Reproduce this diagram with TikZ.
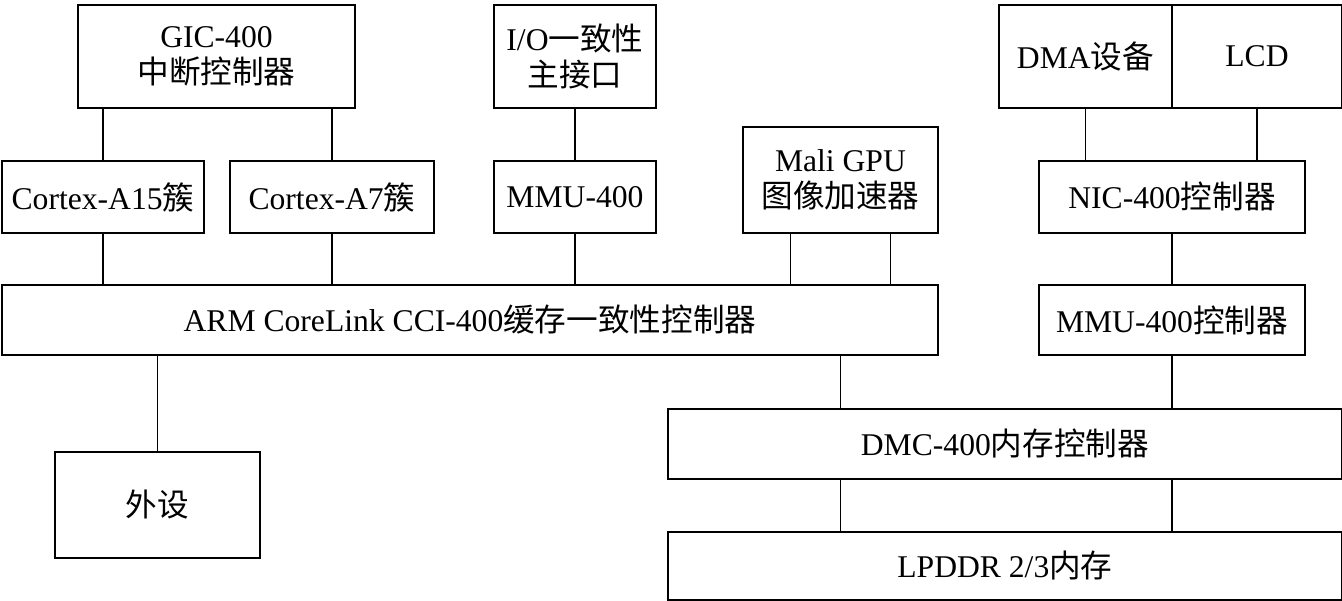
\documentclass[tikz,border=0pt]{standalone}
\usepackage{fontspec}
\setmainfont{Liberation Serif}
\newfontfamily\cjk{Noto Sans CJK SC}
\newcommand{\zh}[1]{{\cjk #1}}
\usetikzlibrary{positioning}
\tikzset{
    box/.style={ % Every block of the SoC
        draw,
        line width=1.1pt,
        inner sep=0pt,
        align=center,
        anchor=north west,
        font=\fontsize{18}{20.5}\selectfont
    },
    dims/.style 2 args={minimum width=#1*0.02cm, minimum height=#2*0.02cm}, % Size in pixels
    link/.style={ % Plain bus lines, no arrow tips
        draw,
        line width=1.1pt
    }
}

\begin{document}
\begin{tikzpicture}[x=0.02cm, y=-0.02cm]
            \useasboundingbox (0,0) rectangle (1342,601);
            % top row
            \node[box, dims={277}{103}] (gic) at (77,4) {GIC-400\\\zh{中断控制器}};
            \node[box, dims={162}{103}] (io) at (493,4) {I/O\zh{一致性}\\\zh{主接口}};
            \node[box, dims={173}{103}] (dma) at (998,4) {DMA\zh{设备}};
            \node[box, dims={170}{103}] (lcd) at (1171,4) {LCD};
            % middle row
            \node[box, dims={202}{72}] (a15) at (1,160) {Cortex-A15\zh{簇}};
            \node[box, dims={204}{72}] (a7) at (229,160) {Cortex-A7\zh{簇}};
            \node[box, dims={162}{72}] (mmu) at (493,160) {MMU-400};
            \node[box, dims={195}{106}] (gpu) at (742,126) {Mali GPU\\\zh{图像加速器}};
            \node[box, dims={266}{72}] (nic) at (1038,160) {NIC-400\zh{控制器}};
            % interconnect
            \node[box, dims={936}{70}] (cci) at (1,284) {ARM CoreLink CCI-400\zh{缓存一致性控制器}};
            \node[box, dims={266}{70}] (mmuc) at (1038,284) {MMU-400\zh{控制器}};
            % memory and peripherals
            \node[box, dims={674}{70}] (dmc) at (667,408) {DMC-400\zh{内存控制器}};
            \node[box, dims={674}{68}] (lpddr) at (667,531) {LPDDR 2/3\zh{内存}};
            \node[box, dims={205}{106}] (per) at (54,451) {\zh{外设}};

            \draw[link] (a15.north) -- (a15.north |- gic.south);
            \draw[link] (a7.north) -- (a7.north |- gic.south);
            \draw[link] (io) -- (mmu);
            \draw[link] (dma.south) -- (dma.south |- nic.north);
            \draw[link] (lcd.south) -- (lcd.south |- nic.north);
            \draw[link] (a15.south) -- (a15.south |- cci.north);
            \draw[link] (a7.south) -- (a7.south |- cci.north);
            \draw[link] (mmu.south) -- (mmu.south |- cci.north);
            \draw[link] ([xshift=-1cm]gpu.south) -- ([xshift=-1cm]gpu.south |- cci.north);
            \draw[link] ([xshift=1cm]gpu.south) -- ([xshift=1cm]gpu.south |- cci.north);
            \draw[link] (nic) -- (mmuc);
            \draw[link] (per.north) -- (per.north |- cci.south);
            \draw[link] (gpu.south |- cci.south) -- (gpu.south |- dmc.north);
            \draw[link] (mmuc.south) -- (mmuc.south |- dmc.north);
            \draw[link] (gpu.south |- dmc.south) -- (gpu.south |- lpddr.north);
            \draw[link] (mmuc.south |- dmc.south) -- (mmuc.south |- lpddr.north);
        \end{tikzpicture}
\end{document}
